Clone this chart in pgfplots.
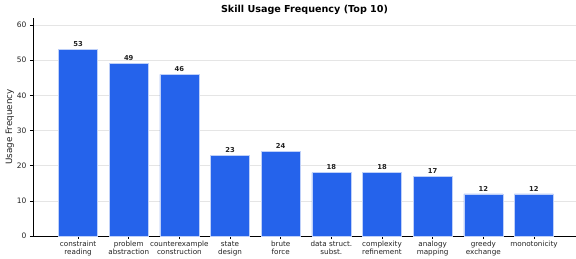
\documentclass[border=0pt]{standalone}
\usepackage{pgfplots}
\pgfplotsset{compat=1.18}
\usepackage{fontspec}
\setmainfont{DejaVu Sans}
\definecolor{barblue}{HTML}{2563EB}
\definecolor{gridgray}{HTML}{E5E5E5}
\definecolor{txt}{HTML}{222222}
\begin{document}
\begin{tikzpicture}
\begin{axis}[
  at={(0,0)}, anchor=south west,
  scale only axis, width=543pt, height=218pt,
  xmin=-0.89, xmax=9.83, ymin=0, ymax=62,
  axis lines=left, axis line style={-, black, line width=0.9pt},
  ytick={0,10,20,30,40,50,60},
  xtick={0,...,9},
  xticklabels={{constraint\\reading},{problem\\abstraction},{counterexample\\construction},{state\\design},{brute\\force},{data struct.\\subst.},{complexity\\refinement},{analogy\\mapping},{greedy\\exchange},{monotonicity}},
  xticklabel style={align=center, font=\fontsize{7.2}{8}\selectfont, text=txt, yshift=1.5pt},
  yticklabel style={font=\fontsize{7.5}{8.5}\selectfont, text=txt},
  /pgf/number format/assume math mode=true,
  tick align=outside, tick style={black, line width=0.5pt}, major tick length=3pt,
  ymajorgrids, grid style={gridgray, line width=0.6pt},
  ylabel={Usage Frequency}, ylabel style={font=\fontsize{8.8}{10}\selectfont, text=txt},
  ylabel shift=-4pt,
  title={\textbf{Skill Usage Frequency (Top 10)}}, title style={font=\fontsize{9.6}{11}\selectfont, yshift=-6pt},
  ybar, bar width=39pt, bar shift=0pt,
  nodes near coords, nodes near coords style={font=\fontsize{6.8}{7.5}\selectfont\bfseries, text=txt, yshift=-1pt},
  clip=false,
]
\addplot[fill=barblue, draw=white!70!barblue, line width=0.6pt] coordinates {
(0,53) (1,49) (2,46) (3,23) (4,24) (5,18) (6,18) (7,17) (8,12) (9,12)};
\end{axis}
\pgfresetboundingbox
\path (-33pt,-22pt) rectangle (543pt,236pt);
\end{tikzpicture}
\end{document}
